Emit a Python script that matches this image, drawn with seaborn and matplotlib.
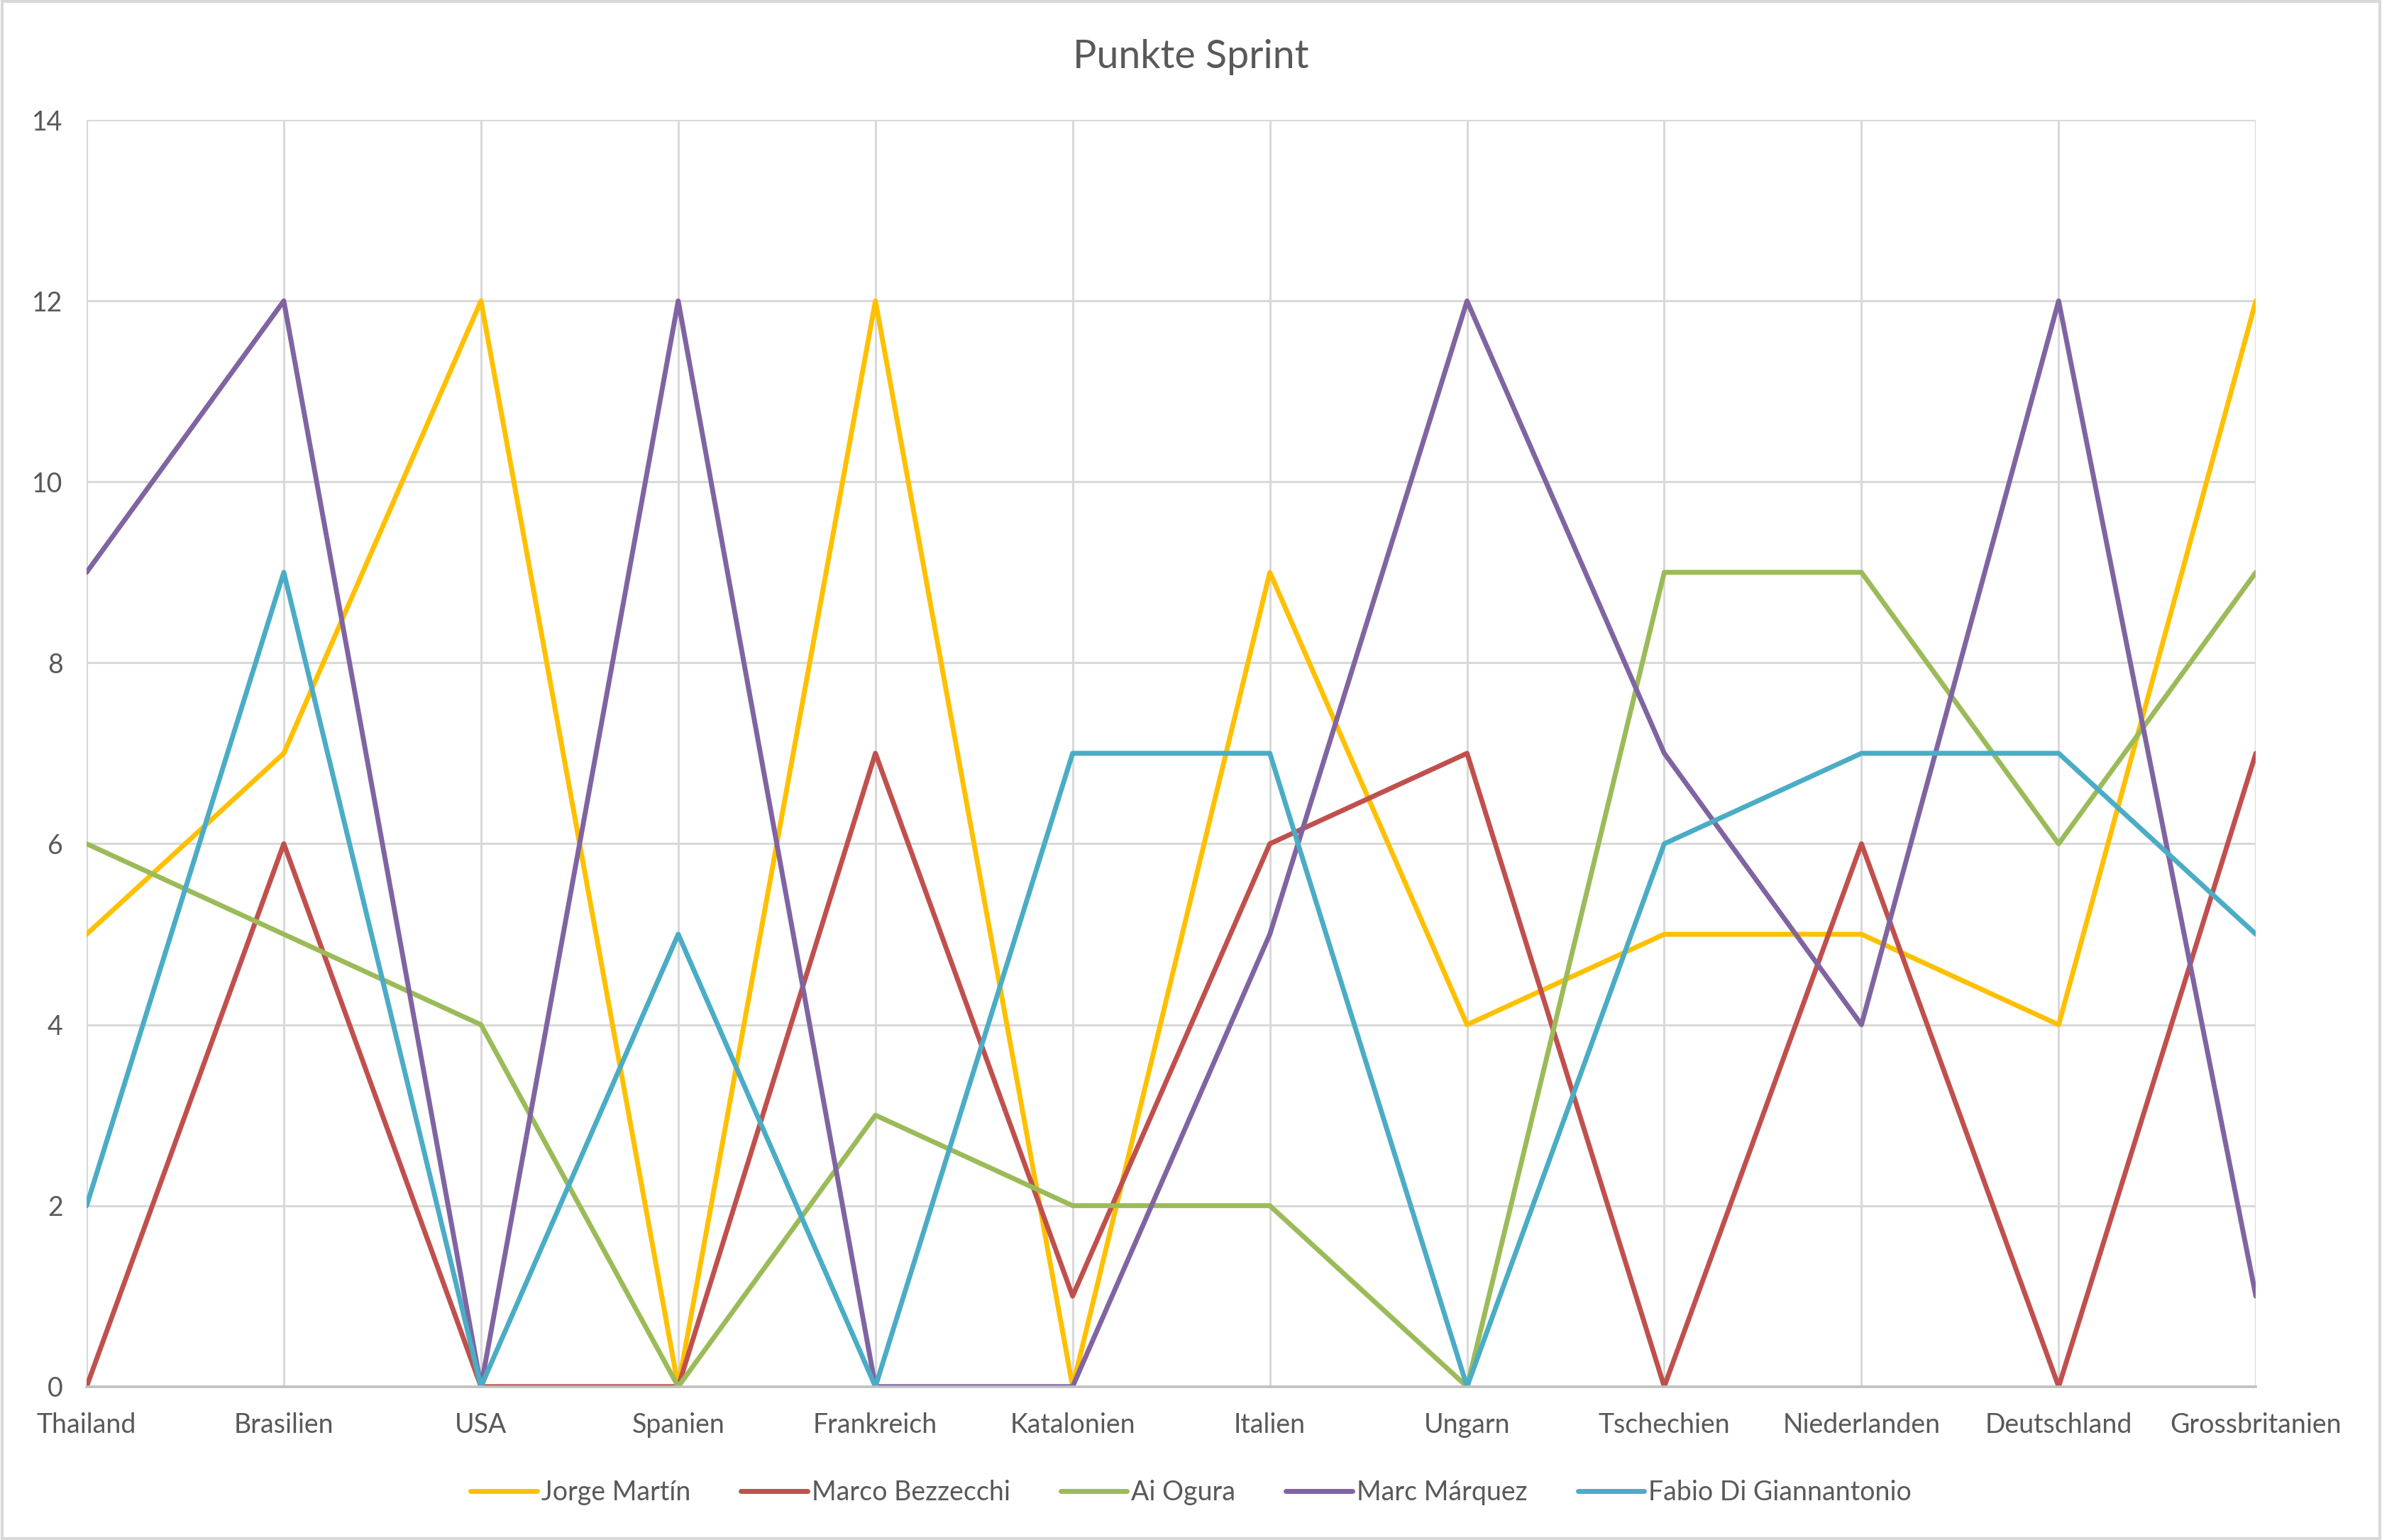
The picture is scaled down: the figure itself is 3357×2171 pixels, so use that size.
import pandas as pd
import seaborn as sns
import matplotlib
matplotlib.use('Agg')
import matplotlib.pyplot as plt

races = ['Thailand', 'Brasilien', 'USA', 'Spanien', 'Frankreich', 'Katalonien',
         'Italien', 'Ungarn', 'Tschechien', 'Niederlanden', 'Deutschland', 'Grossbritanien']

martin = [5, 7, 12, 0, 12, 0, 9, 4, 5, 5, 4, 12]
bezzecchi = [0, 6, 0, 0, 7, 1, 6, 7, 0, 6, 0, 7]
ogura = [6, 5, 4, 0, 3, 2, 2, 0, 9, 9, 6, 9]
marquez = [9, 12, 0, 12, 0, 0, 5, 12, 7, 4, 12, 1]
digiannantonio = [2, 9, 0, 5, 0, 7, 7, 0, 6, 7, 7, 5]

drivers = ['Jorge Martín', 'Marco Bezzecchi', 'Ai Ogura', 'Marc Márquez', 'Fabio Di Giannantonio']
series = [martin, bezzecchi, ogura, marquez, digiannantonio]
colors = ['#FFC000', '#C0504D', '#9BBB59', '#8064A2', '#4BACC6']

rows = []
for name, values in zip(drivers, series):
    for i, (race, v) in enumerate(zip(races, values)):
        rows.append({'idx': i, 'Rennen': race, 'Fahrer': name, 'Punkte': v})
df = pd.DataFrame(rows)

sns.set_style('white')
plt.rcParams['font.family'] = ['Lato', 'DejaVu Sans']

fig = plt.figure(figsize=(3357 / 200, 2171 / 200), dpi=200)
ax = fig.add_axes([0.03635, 0.0996, 0.9107, 0.8225])

sns.lineplot(data=df, x='idx', y='Punkte', hue='Fahrer', hue_order=drivers,
             palette=colors, linewidth=2.5, sort=False, ax=ax, legend=True)

ax.set_xlim(0, len(races) - 1)
ax.set_ylim(0, 14)
ax.set_xticks(range(len(races)))
ax.set_xticklabels(races)
ax.set_yticks(range(0, 15, 2))
ax.set_xlabel('')
ax.set_ylabel('')
ax.grid(True, color='#D9D9D9', linewidth=1.1)
ax.set_axisbelow(True)
for side in ['top', 'right', 'left']:
    ax.spines[side].set_visible(False)
ax.spines['bottom'].set_color('#BFBFBF')
ax.spines['bottom'].set_linewidth(1.3)
ax.tick_params(axis='both', length=0, labelsize=13.5, colors='#595959')
ax.tick_params(axis='x', pad=13)
ax.tick_params(axis='y', pad=12)

ax.legend_.remove()
handles, labels = ax.get_legend_handles_labels()
fig.legend(handles, labels, loc='center', bbox_to_anchor=(0.5, 0.031), ncol=5,
           frameon=False, fontsize=13.5, labelcolor='#595959', handlelength=2.5,
           handletextpad=0.15, columnspacing=1.9)

fig.text(0.5, 0.963, 'Punkte Sprint', ha='center', va='center', fontsize=20, color='#595959')

border = plt.Rectangle((0.001, 0.001), 0.998, 0.998, transform=fig.transFigure,
                       fill=False, edgecolor='#D9D9D9', linewidth=1.5)
fig.patches.append(border)

fig.savefig('out.png', dpi=200)
